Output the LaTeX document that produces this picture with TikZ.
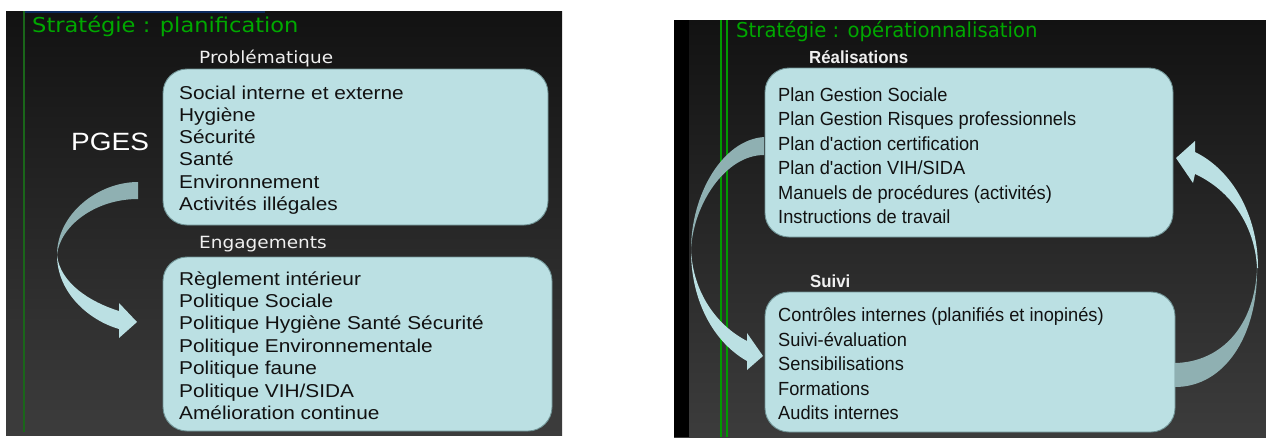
\documentclass[tikz,border=0pt]{standalone}
\usepackage{fontspec}
\setmainfont{Liberation Sans}
\newfontfamily\fBoxL[FakeStretch=1.12,Ligatures=TeXOff]{Liberation Sans}
\newfontfamily\fBoxR[FakeStretch=0.96,Ligatures=TeXOff]{Liberation Sans}
\newfontfamily\fHeadL[FakeStretch=1.1]{DejaVu Sans}
\newfontfamily\fHeadR[FakeStretch=0.96]{DejaVu Sans}
\definecolor{bgtop}{HTML}{121212}
\definecolor{bgbot}{HTML}{3C3C3C}
\definecolor{boxfill}{HTML}{BBE0E3}
\definecolor{boxline}{HTML}{6F9294}
\definecolor{arrdark}{HTML}{8FB0B2}
\definecolor{ttlgreen}{HTML}{00A800}
\definecolor{linegreen}{HTML}{1A661A}
\definecolor{brightgreen}{HTML}{009A00}
\definecolor{navy}{HTML}{0B2A5E}
\definecolor{txtdark}{HTML}{111111}
\definecolor{headwhite}{HTML}{F0F0F0}
\tikzset{
  panelbg/.style={top color=bgtop, bottom color=bgbot},
  roundbox/.style={fill=boxfill, draw=boxline, line width=0.9pt, rounded corners=24pt},
  txtL/.style={inner sep=0pt, anchor=base west, text=txtdark, font=\fBoxL\fontsize{18.6pt}{20pt}\selectfont},
  txtR/.style={inner sep=0pt, anchor=base west, text=txtdark, font=\fBoxR\fontsize{19pt}{20pt}\selectfont},
  titleL/.style={inner sep=0pt, anchor=base west, text=ttlgreen, font=\fHeadL\fontsize{20.5pt}{22pt}\selectfont},
  titleR/.style={inner sep=0pt, anchor=base west, text=ttlgreen, font=\fHeadR\fontsize{20.5pt}{22pt}\selectfont},
  headL/.style={inner sep=0pt, anchor=base west, text=headwhite, font=\fHeadL\fontsize{16.8pt}{18pt}\selectfont},
  headR/.style={inner sep=0pt, anchor=base west, text=headwhite, font=\fBoxR\bfseries\fontsize{17.5pt}{18pt}\selectfont},
  arrowlight/.style={fill=boxfill},
  arrowdark/.style={fill=arrdark}
}
\begin{document}
\begin{tikzpicture}[x=1pt,y=-1pt]
\useasboundingbox (0,0) rectangle (1266,437);
\fill[white] (0,0) rectangle (1266,437);

% ---------------- left panel ----------------
\shade[panelbg] (6,11) rectangle (562,435);
\fill[navy] (24,11) rectangle (265,13);
\draw[linegreen, line width=2pt] (24,11) -- (24,432);
\node[titleL] (t1) at (32,32) {Stratégie : planification};
\node[headL] (h1) at (199,63) {Problématique};
\node[headL] (h2) at (199,248) {Engagements};
\node[inner sep=0pt, anchor=base west, text=white, font=\fBoxL\fontsize{25pt}{26pt}\selectfont] (pges) at (71,150) {PGES};

\path[roundbox] (163,69) rectangle (548,225);
\node[inner sep=0pt] (boxA) at (355.5,147) {};
\path[roundbox] (163,257) rectangle (552,431);
\node[inner sep=0pt] (boxB) at (357.5,344) {};

\foreach \t [count=\i from 0] in {Social interne et externe, Hygiène, Sécurité, Santé, Environnement, Activités illégales}
  \node[txtL] (a\i) at (179,{99+22.3*\i}) {\t};
\foreach \t [count=\i from 0] in {Règlement intérieur, Politique Sociale, Politique Hygiène Santé Sécurité, Politique Environnementale, Politique faune, Politique VIH/SIDA, Amélioration continue}
  \node[txtL] (b\i) at (179,{285+22.4*\i}) {\t};

% curved arrow (left panel)
\path[arrowdark] (138,182) .. controls (98,182) and (57,214) .. (57,255)
  .. controls (60,226) and (95,199) .. (138,199) -- cycle;
\path[arrowlight] (57,255) .. controls (57,292) and (88,320) .. (119,329)
  -- (119,338) -- (137,322) -- (119,303) -- (119,311)
  .. controls (90,302) and (60,283) .. (57,255) -- cycle;

% ---------------- right panel ----------------
\shade[panelbg] (674,20) rectangle (1266,437);
\fill[black] (674,20) rectangle (689,437);
\draw[brightgreen, line width=1.5pt] (721,20) -- (721,437);
\draw[brightgreen, line width=1.5pt] (727,20) -- (727,437);
\node[titleR] (t2) at (736,37) {Stratégie : opérationnalisation};
\node[headR] (h3) at (809,63) {Réalisations};
\node[headR] (h4) at (810,287) {Suivi};

\path[roundbox] (765,68) rectangle (1173,237);
\node[inner sep=0pt] (boxC) at (969,152.5) {};
\path[roundbox] (765,292) rectangle (1175,432);
\node[inner sep=0pt] (boxD) at (970,362) {};

\foreach \t [count=\i from 0] in {Plan Gestion Sociale, Plan Gestion Risques professionnels, Plan d'action certification, Plan d'action VIH/SIDA, Manuels de procédures (activités), Instructions de travail}
  \node[txtR] (c\i) at (778,{101+24.5*\i}) {\t};
\foreach \t [count=\i from 0] in {Contrôles internes (planifiés et inopinés), Suivi-évaluation, Sensibilisations, Formations, Audits internes}
  \node[txtR] (d\i) at (778,{321.5+24.6*\i}) {\t};

% left curved arrow (right panel)
\path[arrowdark] (764,137) .. controls (722,140) and (691,195) .. (691,250)
  .. controls (693,205) and (725,155) .. (764,155) -- cycle;
\path[arrowlight] (691,250) .. controls (691,303) and (715,343) .. (747,361)
  -- (747,370) -- (763,356) -- (747,333) -- (747,341)
  .. controls (716,325) and (693,292) .. (691,250) -- cycle;

% right curved arrow (right panel)
\path[arrowdark] (1257,268) .. controls (1258,335) and (1225,387) .. (1175,387)
  -- (1175,363) .. controls (1222,362) and (1255,325) .. (1257,268) -- cycle;
\path[arrowlight] (1258,268) .. controls (1258,215) and (1232,170) .. (1195,152)
  -- (1195,141) -- (1176,158) -- (1193,183) -- (1195,174)
  .. controls (1230,190) and (1255,225) .. (1257,268) -- cycle;
\end{tikzpicture}
\end{document}
